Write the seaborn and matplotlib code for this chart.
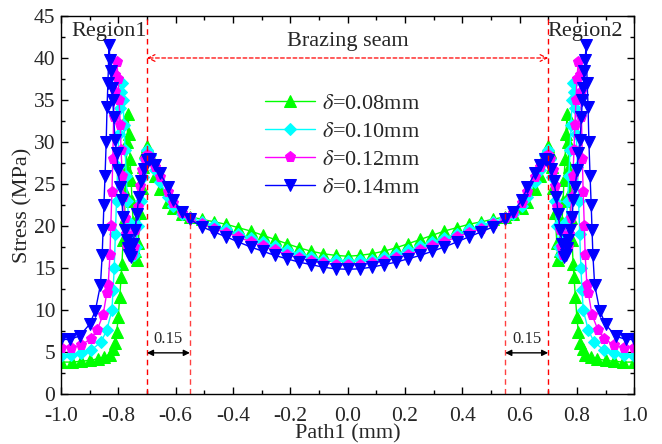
import numpy as np
import pandas as pd
import seaborn as sns
import matplotlib
matplotlib.use("Agg")
import matplotlib.pyplot as plt
from matplotlib.ticker import MultipleLocator, FormatStrFormatter

# left half of each curve (x <= 0); the curves are symmetric about x=0
mid_x = [-0.508, -0.466, -0.423, -0.381, -0.338, -0.296, -0.254, -0.212, -0.169, -0.127, -0.085, -0.042, 0.0]
seam_x = [-0.69, -0.672, -0.654, -0.627, -0.609, -0.578, -0.55]

x_008 = [-1.0, -0.96, -0.93, -0.90, -0.87, -0.85, -0.83, -0.82, -0.812, -0.805, -0.80, -0.795, -0.79,
         -0.787, -0.783, -0.778, -0.775, -0.772, -0.769, -0.766, -0.762, -0.759, -0.755, -0.752, -0.748,
         -0.744, -0.740, -0.735, -0.730, -0.724, -0.718, -0.712, -0.706, -0.70] + seam_x + mid_x
y_008 = [3.8, 3.8, 3.9, 4.0, 4.2, 4.4, 4.7, 5.3, 6.1, 7.4, 9.2, 11.5, 13.9,
         15.5, 18.3, 21.0, 24.0, 27.0, 30.0, 33.3, 31.0, 28.0, 25.5, 23.0, 20.5,
         18.5, 17.0, 16.0, 18.0, 21.5, 24.5, 27.0, 28.8, 29.5,
         28.5, 26.0, 24.4, 22.9, 22.1, 21.4, 21.1,
         20.8, 20.5, 20.2, 19.8, 19.4, 18.9, 18.4, 17.9, 17.4, 17.0, 16.7, 16.5, 16.4]

x_010 = [-1.0, -0.965, -0.93, -0.895, -0.86, -0.84, -0.822, -0.818, -0.814, -0.810, -0.806, -0.802,
         -0.798, -0.794, -0.790, -0.787, -0.783, -0.780, -0.776, -0.772, -0.768, -0.763, -0.757,
         -0.750, -0.744, -0.738, -0.730, -0.722, -0.714, -0.706, -0.70] + seam_x + mid_x
y_010 = [4.5, 4.6, 4.9, 5.2, 6.2, 7.6, 10.0, 12.4, 15.0, 19.0, 23.0, 27.0,
         31.0, 34.0, 36.0, 37.0, 35.0, 32.0, 29.0, 26.0, 23.0, 20.5, 18.5,
         17.0, 16.5, 17.5, 20.0, 23.0, 25.8, 28.0, 29.0,
         28.4, 26.7, 25.2, 23.5, 22.4, 21.4, 21.0,
         20.5, 20.1, 19.6, 19.1, 18.6, 18.1, 17.6, 17.1, 16.7, 16.3, 16.0, 15.9, 15.85]

x_012 = [-1.0, -0.965, -0.93, -0.895, -0.874, -0.853, -0.840, -0.835, -0.829, -0.826, -0.822, -0.819,
         -0.816, -0.813, -0.810, -0.805, -0.800, -0.797, -0.793, -0.790, -0.786, -0.782, -0.778,
         -0.773, -0.768, -0.760, -0.752, -0.746, -0.740, -0.732, -0.724, -0.716, -0.708, -0.70] + seam_x + mid_x
y_012 = [5.5, 5.5, 5.8, 6.6, 7.6, 9.4, 12.0, 13.0, 16.5, 20.0, 24.0, 28.0,
         33.0, 36.0, 38.0, 39.5, 37.5, 35.0, 32.0, 29.0, 26.0, 23.5, 21.0,
         19.0, 17.5, 16.8, 16.5, 17.5, 19.5, 22.3, 24.8, 26.7, 28.0, 28.5,
         28.2, 27.0, 25.8, 24.0, 22.7, 21.5, 20.9,
         20.2, 19.7, 19.2, 18.7, 18.1, 17.6, 17.1, 16.6, 16.2, 15.8, 15.6, 15.4, 15.35]

x_014 = [-1.0, -0.97, -0.935, -0.90, -0.88, -0.862, -0.856, -0.853, -0.850, -0.846, -0.842, -0.839,
         -0.836, -0.832, -0.829, -0.826, -0.822, -0.819, -0.816, -0.811, -0.805, -0.801, -0.794,
         -0.787, -0.784, -0.777, -0.770, -0.766, -0.762, -0.756, -0.749, -0.742, -0.735, -0.728,
         -0.720, -0.710, -0.70] + seam_x + mid_x
y_014 = [6.5, 6.5, 6.9, 8.3, 9.9, 13.0, 16.5, 19.5, 22.5, 26.0, 30.0, 34.2,
         37.0, 41.5, 39.8, 38.4, 36.4, 35.0, 33.0, 30.2, 28.7, 26.7, 24.7,
         23.1, 21.1, 19.5, 18.3, 17.4, 16.5, 16.3, 17.8, 19.5, 21.4, 23.5,
         25.3, 26.8, 27.8,
         28.0, 27.3, 26.3, 24.6, 23.1, 21.7, 20.8,
         19.9, 19.3, 18.7, 18.1, 17.5, 17.0, 16.5, 16.1, 15.7, 15.4, 15.1, 14.9, 14.85]

labels = [r"$\delta$=0.08mm", r"$\delta$=0.10mm", r"$\delta$=0.12mm", r"$\delta$=0.14mm"]
halves = [(x_008, y_008), (x_010, y_010), (x_012, y_012), (x_014, y_014)]
colors = ["#00FF00", "#00FFFF", "#FF00FF", "#0000FF"]
markers = ["^", "D", "p", "v"]
msizes = [8, 6.5, 8, 8]

rows = []
for lab, (hx, hy) in zip(labels, halves):
    # mirror the left half to get the right half
    fx = list(hx) + [-v for v in reversed(hx[:-1])]
    fy = list(hy) + list(reversed(hy[:-1]))
    for i, (a, b) in enumerate(zip(fx, fy)):
        rows.append({"series": lab, "order": i, "x": a, "y": b})
df = pd.DataFrame(rows)

sns.set_theme(style="ticks")
plt.rcParams["font.family"] = ["Liberation Serif", "DejaVu Serif"]
plt.rcParams["mathtext.fontset"] = "stix"
plt.rcParams["axes.unicode_minus"] = False

fig = plt.figure(figsize=(6.62, 4.44), dpi=100)
ax = fig.add_axes([0.092, 0.1126, 0.866, 0.8514])

for lab, c, m, ms in zip(labels, colors, markers, msizes):
    sub = df[df["series"] == lab]
    sns.lineplot(data=sub, x="x", y="y", sort=False, estimator=None, color=c,
                 marker=m, markersize=ms, markeredgecolor=c, linewidth=1.0,
                 label=lab, ax=ax)

red = "#FF0000"
for xv in [-0.7, 0.7]:
    ax.plot([xv, xv], [0, 45], ls=(0, (4, 3)), color=red, lw=1.0)
for xv in [-0.55, 0.55]:
    ax.plot([xv, xv], [0, 22], ls=(0, (4, 3)), color=red, lw=1.0, alpha=0.75)

ax.annotate("", xy=(-0.7, 40.0), xytext=(0.7, 40.0),
            arrowprops=dict(arrowstyle="<->", color=red, ls=(0, (3, 2)), lw=0.9,
                            shrinkA=0, shrinkB=0))
ax.text(0.0, 42.0, "Brazing seam", ha="center", va="center", fontsize=16)
ax.text(-0.832, 43.1, "Region1", ha="center", va="center", fontsize=16)
ax.text(0.83, 43.1, "Region2", ha="center", va="center", fontsize=16)

for x0, x1 in [(-0.7, -0.55), (0.55, 0.7)]:
    ax.annotate("", xy=(x0, 4.9), xytext=(x1, 4.9),
                arrowprops=dict(arrowstyle="<|-|>", color="black", lw=1.0,
                                mutation_scale=9, shrinkA=0, shrinkB=0))
    ax.text((x0 + x1) / 2, 6.6, "0.15", ha="center", va="center", fontsize=12)

ax.set_xlim(-1.0, 1.0)
ax.set_ylim(0, 45)
ax.xaxis.set_major_locator(MultipleLocator(0.2))
ax.xaxis.set_minor_locator(MultipleLocator(0.1))
ax.xaxis.set_major_formatter(FormatStrFormatter("%.1f"))
ax.yaxis.set_major_locator(MultipleLocator(5))
ax.yaxis.set_minor_locator(MultipleLocator(2.5))
ax.tick_params(which="both", direction="in", top=True, right=True, labelsize=15.5,
               width=1.0, color="black")
ax.tick_params(which="major", length=5)
ax.tick_params(which="minor", length=3)
ax.tick_params(axis="x", which="major", pad=9)
ax.tick_params(axis="y", which="major", pad=4)
for s in ax.spines.values():
    s.set_linewidth(1.0)
    s.set_color("black")
ax.set_xlabel("Path1 (mm)", fontsize=16, labelpad=-1)
ax.set_ylabel("Stress (MPa)", fontsize=16, labelpad=1)

ax.legend(loc="upper left", bbox_to_anchor=(0.356, 0.795), frameon=False, fontsize=16,
          handlelength=2.25, labelspacing=0.33, handletextpad=0.3,
          borderpad=0, borderaxespad=0)

fig.savefig("out.png", dpi=100)
